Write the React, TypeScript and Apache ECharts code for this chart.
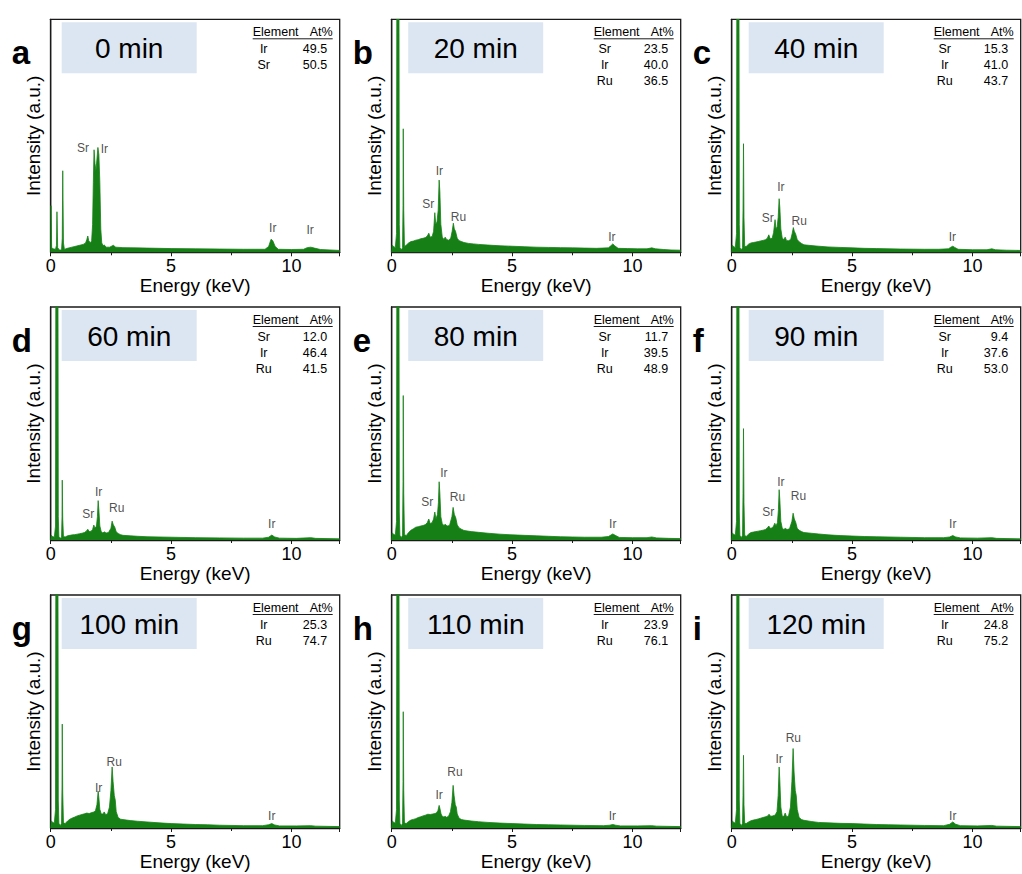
import React, { useEffect, useRef } from 'react';
import * as echarts from 'echarts';

// ---------- data ----------
const panelLetters = ['a', 'b', 'c', 'd', 'e', 'f', 'g', 'h', 'i'];
const panelTimes = ['0 min', '20 min', '40 min', '60 min', '80 min', '90 min', '100 min', '110 min', '120 min'];
const tableElements = [
  ['Ir', 'Sr'],
  ['Sr', 'Ir', 'Ru'],
  ['Sr', 'Ir', 'Ru'],
  ['Sr', 'Ir', 'Ru'],
  ['Sr', 'Ir', 'Ru'],
  ['Sr', 'Ir', 'Ru'],
  ['Ir', 'Ru'],
  ['Ir', 'Ru'],
  ['Ir', 'Ru'],
];
const tableValues = [
  ['49.5', '50.5'],
  ['23.5', '40.0', '36.5'],
  ['15.3', '41.0', '43.7'],
  ['12.0', '46.4', '41.5'],
  ['11.7', '39.5', '48.9'],
  ['9.4', '37.6', '53.0'],
  ['25.3', '74.7'],
  ['23.9', '76.1'],
  ['24.8', '75.2'],
];

// energy (keV), intensity (% of panel height)
const spectrumA = [
  [0, 0], [0.01, 20], [0.04, 2], [0.1, 1.5], [0.2, 1.3], [0.24, 3], [0.26, 17.4], [0.29, 2], [0.36, 1], [0.45, 1],
  [0.48, 6], [0.5, 35], [0.53, 4], [0.57, 1.2], [0.65, 1.6], [0.8, 2], [1.0, 2.5], [1.2, 3], [1.35, 3.4], [1.45, 4],
  [1.5, 5.5], [1.54, 7], [1.58, 5], [1.65, 4], [1.7, 5], [1.74, 12], [1.77, 30], [1.8, 44], [1.84, 38], [1.88, 35],
  [1.92, 40], [1.96, 45], [2.0, 42], [2.04, 30], [2.08, 10], [2.12, 4], [2.18, 2.8], [2.22, 3.2], [2.3, 2.2], [2.45, 2.2],
  [2.6, 3], [2.7, 2.2], [3.0, 2], [3.5, 1.9], [4.0, 1.8], [5.0, 1.6], [6.0, 1.5], [7.0, 1.4], [8.0, 1.3], [8.9, 1.3],
  [9.05, 2.5], [9.15, 5.6], [9.22, 5], [9.32, 2.5], [9.45, 1.3], [10.0, 1.2], [10.5, 1.3], [10.65, 2], [10.8, 2.2],
  [10.95, 1.8], [11.2, 1.2], [12, 0.8],
];
const spectrumB = [
  [0, 0], [0.02, 3], [0.08, 2.5], [0.15, 2], [0.2, 8], [0.215, 130], [0.3, 130], [0.315, 12], [0.34, 2], [0.4, 1],
  [0.45, 2], [0.47, 20], [0.48, 53], [0.5, 18], [0.53, 2.5], [0.6, 3], [0.7, 4], [0.8, 4.6], [0.9, 4.8], [1.0, 5.2],
  [1.1, 5.4], [1.2, 5.8], [1.3, 6], [1.4, 6.3], [1.48, 7], [1.54, 8.2], [1.6, 6.5], [1.68, 6.8], [1.74, 9], [1.79, 17],
  [1.83, 12], [1.88, 13], [1.93, 18], [1.97, 31], [2.0, 26], [2.04, 12], [2.1, 6.5], [2.17, 5.5], [2.22, 6.5], [2.28, 5.5],
  [2.36, 5.2], [2.45, 6], [2.51, 9], [2.56, 12.5], [2.6, 10], [2.65, 9], [2.72, 6], [2.8, 5], [2.9, 4.6], [3.0, 4.2],
  [3.2, 3.8], [3.4, 3.6], [3.6, 3.4], [4.0, 3.1], [4.5, 2.8], [5.0, 2.6], [5.5, 2.4], [6.0, 2.2], [6.5, 2.1], [7.0, 2.0],
  [7.5, 1.9], [8.0, 1.8], [8.5, 1.7], [9.0, 1.9], [9.1, 2.8], [9.18, 3.6], [9.26, 2.8], [9.4, 1.7], [9.8, 1.6], [10.2, 1.5],
  [10.6, 1.5], [10.8, 1.9], [10.95, 1.5], [11.3, 1.2], [11.6, 1.0], [12, 0.9],
];
const spectrumC = [
  [0, 0], [0.02, 3], [0.08, 2.5], [0.15, 2], [0.2, 8], [0.215, 130], [0.3, 130], [0.315, 12], [0.34, 2], [0.4, 1],
  [0.45, 2], [0.47, 18], [0.49, 46.6], [0.51, 15], [0.54, 2.5], [0.6, 2.5], [0.7, 3.5], [0.8, 4], [0.9, 4.2], [1.0, 4.4],
  [1.1, 4.6], [1.2, 4.9], [1.3, 5.1], [1.4, 5.4], [1.48, 6], [1.54, 7.5], [1.6, 5.8], [1.68, 6], [1.74, 8.5], [1.8, 14],
  [1.84, 10], [1.89, 11], [1.93, 15], [1.97, 23], [2.0, 19], [2.04, 10], [2.1, 6], [2.17, 5.5], [2.22, 6.5], [2.28, 5],
  [2.36, 5], [2.45, 5.5], [2.51, 8], [2.56, 10.6], [2.6, 9], [2.65, 8], [2.72, 5.5], [2.8, 4.5], [2.9, 3.8], [3.0, 3.2],
  [3.2, 3], [3.5, 2.7], [4.0, 2.3], [4.5, 2.1], [5.0, 1.9], [5.5, 1.7], [6.0, 1.6], [7.0, 1.4], [8.0, 1.3], [8.6, 1.3],
  [9.0, 1.5], [9.1, 2.2], [9.18, 2.6], [9.26, 2.1], [9.4, 1.3], [10.0, 1.1], [10.6, 1.1], [10.8, 1.5], [10.95, 1.1],
  [11.4, 0.9], [12, 0.8],
];
const spectrumD = [
  [0, 0], [0.02, 2], [0.08, 1.5], [0.15, 1.2], [0.2, 6], [0.215, 130], [0.3, 130], [0.315, 10], [0.34, 1.5], [0.4, 0.8],
  [0.45, 1.2], [0.47, 10], [0.48, 25.7], [0.5, 9], [0.53, 1.5], [0.6, 1.3], [0.7, 1.8], [0.8, 2], [0.9, 2.2], [1.0, 2.3],
  [1.1, 2.5], [1.2, 2.7], [1.3, 2.9], [1.4, 3.2], [1.48, 3.8], [1.54, 4.6], [1.6, 3.6], [1.68, 3.8], [1.74, 4.5], [1.79, 6.4],
  [1.84, 5], [1.9, 6], [1.94, 10], [1.97, 16.9], [2.0, 13], [2.04, 6], [2.1, 3.5], [2.17, 3], [2.22, 3.5], [2.3, 3],
  [2.4, 3.2], [2.5, 5], [2.55, 8.1], [2.6, 6.5], [2.66, 5.5], [2.72, 3.5], [2.8, 2.8], [2.9, 2.3], [3.0, 2], [3.3, 1.8],
  [3.6, 1.6], [4.0, 1.4], [5.0, 1.2], [6.0, 1.0], [7.0, 0.9], [8.0, 0.8], [8.8, 0.8], [9.05, 1.2], [9.18, 2.1], [9.3, 1.3],
  [9.5, 0.8], [10.2, 0.7], [10.8, 1.0], [11, 0.7], [12, 0.5],
];
const spectrumE = [
  [0, 0], [0.02, 3], [0.08, 2.5], [0.15, 2], [0.2, 8], [0.215, 130], [0.3, 130], [0.315, 12], [0.34, 2], [0.4, 1],
  [0.45, 2], [0.47, 25], [0.48, 62], [0.5, 20], [0.53, 2.5], [0.6, 1.8], [0.7, 3.2], [0.8, 4.2], [0.9, 4.8], [1.0, 5.5],
  [1.1, 5.7], [1.2, 6], [1.3, 6.2], [1.4, 6.6], [1.48, 7.5], [1.54, 9], [1.6, 7], [1.68, 7.5], [1.74, 9], [1.79, 12],
  [1.84, 9], [1.9, 11], [1.94, 16], [1.97, 25], [2.0, 20], [2.04, 10], [2.1, 7], [2.17, 6.2], [2.22, 6.8], [2.3, 6],
  [2.4, 6.2], [2.5, 10], [2.55, 14], [2.6, 11], [2.66, 9.5], [2.72, 6.5], [2.8, 5.2], [2.9, 4.6], [3.0, 4.1], [3.3, 3.6],
  [3.6, 3.3], [4.0, 2.9], [4.5, 2.5], [5.0, 2.2], [5.5, 2], [6.0, 1.8], [6.5, 1.6], [7.0, 1.4], [7.5, 1.3], [8.0, 1.2],
  [8.7, 1.2], [9.0, 1.5], [9.1, 2.1], [9.18, 2.6], [9.28, 2], [9.45, 1.1], [10, 1], [10.6, 1], [10.8, 1.3], [11, 0.9],
  [11.5, 0.7], [12, 0.6],
];
const spectrumF = [
  [0, 0], [0.02, 3], [0.08, 2.5], [0.15, 2], [0.2, 8], [0.215, 130], [0.3, 130], [0.315, 12], [0.34, 2], [0.4, 1],
  [0.45, 2], [0.47, 20], [0.49, 47.8], [0.51, 16], [0.54, 2], [0.6, 1.5], [0.7, 2.5], [0.8, 3.2], [0.9, 3.4], [1.0, 3.6],
  [1.1, 3.8], [1.2, 4], [1.3, 4.2], [1.4, 4.5], [1.48, 5.2], [1.54, 6], [1.6, 5], [1.68, 5.2], [1.74, 6], [1.79, 7.2],
  [1.84, 6], [1.9, 7.5], [1.94, 13], [1.97, 21.6], [2.0, 17], [2.04, 8], [2.1, 5], [2.17, 4.5], [2.22, 5], [2.3, 4.5],
  [2.4, 4.8], [2.5, 8], [2.55, 11.5], [2.6, 9], [2.66, 7.5], [2.72, 5], [2.8, 4.2], [2.9, 3.6], [3.0, 3.2], [3.3, 2.9],
  [3.6, 2.6], [4.0, 2.2], [4.5, 1.9], [5.0, 1.7], [5.5, 1.5], [6.0, 1.4], [7.0, 1.2], [8.0, 1.0], [8.8, 1.0], [9.05, 1.3],
  [9.18, 1.9], [9.3, 1.3], [9.5, 0.9], [10.2, 0.8], [10.8, 1.0], [11, 0.7], [12, 0.5],
];
const spectrumG = [
  [0, 0], [0.02, 3], [0.08, 2.5], [0.15, 2], [0.2, 8], [0.215, 130], [0.3, 130], [0.315, 12], [0.34, 2], [0.4, 1],
  [0.45, 2], [0.47, 18], [0.48, 44.6], [0.5, 15], [0.53, 2.2], [0.6, 1.9], [0.7, 3], [0.8, 3.8], [0.9, 4.3], [1.0, 4.7],
  [1.1, 5.2], [1.2, 5.5], [1.3, 5.8], [1.4, 6.1], [1.5, 6.4], [1.6, 6.2], [1.7, 6.6], [1.8, 6.9], [1.86, 7.5], [1.92, 10],
  [1.97, 15.8], [2.0, 13], [2.04, 8], [2.1, 6], [2.17, 6], [2.22, 6.9], [2.28, 5.8], [2.36, 6], [2.44, 9], [2.5, 16],
  [2.55, 26.2], [2.59, 20], [2.64, 14], [2.68, 12], [2.72, 7], [2.8, 4.5], [2.9, 3.8], [3.0, 3.6], [3.3, 3.2], [3.6, 2.9],
  [4.0, 2.6], [4.5, 2.2], [5.0, 1.9], [5.5, 1.7], [6.0, 1.5], [6.5, 1.4], [7.0, 1.2], [8.0, 1.0], [8.8, 1.0], [9.05, 1.4],
  [9.18, 1.9], [9.3, 1.3], [9.5, 0.9], [10.2, 0.9], [10.8, 1.0], [11, 0.8], [12, 0.6],
];
const spectrumH = [
  [0, 0], [0.02, 3], [0.08, 2.5], [0.15, 2], [0.2, 8], [0.215, 130], [0.3, 130], [0.315, 12], [0.34, 2], [0.4, 1],
  [0.45, 2], [0.47, 20], [0.48, 49.9], [0.5, 16], [0.53, 2.2], [0.6, 1.9], [0.7, 2.8], [0.8, 3.4], [0.9, 3.7], [1.0, 4],
  [1.1, 4.5], [1.2, 4.8], [1.3, 5.2], [1.4, 5.5], [1.5, 5.9], [1.6, 5.8], [1.7, 6], [1.8, 6.2], [1.86, 6.5], [1.92, 7.5],
  [1.97, 9.7], [2.0, 8.5], [2.05, 6], [2.1, 5], [2.17, 4.7], [2.22, 5], [2.28, 4.6], [2.36, 5], [2.44, 7], [2.5, 11],
  [2.55, 18.3], [2.59, 14], [2.64, 10], [2.68, 9], [2.72, 6], [2.8, 4.2], [2.9, 3.6], [3.0, 3.4], [3.3, 3], [3.6, 2.7],
  [4.0, 2.4], [4.5, 2.1], [5.0, 1.9], [5.5, 1.7], [6.0, 1.5], [6.5, 1.4], [7.0, 1.3], [8.0, 1.1], [8.8, 1.0], [9.05, 1.2],
  [9.18, 1.5], [9.3, 1.2], [9.5, 0.9], [10.2, 0.9], [10.8, 1.0], [11, 0.8], [12, 0.6],
];
const spectrumI = [
  [0, 0], [0.02, 3], [0.08, 2.5], [0.15, 2], [0.2, 8], [0.215, 130], [0.3, 130], [0.315, 12], [0.34, 2], [0.4, 1],
  [0.45, 2], [0.47, 14], [0.49, 31.2], [0.51, 10], [0.54, 2], [0.6, 1.9], [0.7, 2.6], [0.8, 3.1], [0.9, 3.4], [1.0, 3.6],
  [1.1, 3.9], [1.2, 4.2], [1.3, 4.5], [1.4, 4.8], [1.5, 5.2], [1.55, 5.9], [1.62, 5], [1.7, 5.2], [1.8, 5.5], [1.88, 7],
  [1.93, 14], [1.97, 26.2], [2.0, 20], [2.04, 9], [2.1, 5], [2.17, 5], [2.22, 6.4], [2.28, 4.8], [2.36, 5.2], [2.44, 9],
  [2.5, 20], [2.55, 34.1], [2.59, 24], [2.64, 16], [2.68, 14], [2.72, 8], [2.8, 4.5], [2.9, 3.6], [3.0, 3.3], [3.3, 2.8],
  [3.6, 2.4], [4.0, 2.2], [4.5, 2], [5.0, 1.9], [5.5, 1.7], [6.0, 1.5], [6.5, 1.4], [7.0, 1.3], [8.0, 1.1], [8.8, 1.0],
  [9.05, 1.6], [9.18, 2.6], [9.3, 1.6], [9.5, 1.0], [10.2, 0.9], [10.8, 1.1], [11, 0.8], [12, 0.6],
];
const spectra = [spectrumA, spectrumB, spectrumC, spectrumD, spectrumE, spectrumF, spectrumG, spectrumH, spectrumI];

// peak annotations: [energy, intensity, label]
const peakLabelsA = [[1.34, 44.8, 'Sr'], [2.23, 44.5, 'Ir'], [9.22, 10.4, 'Ir'], [10.77, 9.6, 'Ir']];
const peakLabelsB = [[1.98, 35.0, 'Ir'], [1.52, 20.7, 'Sr'], [2.77, 15.3, 'Ru'], [9.14, 6.7, 'Ir']];
const peakLabelsC = [[2.04, 27.9, 'Ir'], [1.5, 14.6, 'Sr'], [2.8, 13.6, 'Ru'], [9.16, 6.7, 'Ir']];
const peakLabelsD = [[1.99, 20.7, 'Ir'], [1.56, 11.2, 'Sr'], [2.74, 13.6, 'Ru'], [9.18, 6.7, 'Ir']];
const peakLabelsE = [[2.17, 28.6, 'Ir'], [1.48, 16.4, 'Sr'], [2.73, 18.6, 'Ru'], [9.18, 6.7, 'Ir']];
const peakLabelsF = [[2.04, 25.0, 'Ir'], [1.52, 12.1, 'Sr'], [2.77, 18.9, 'Ru'], [9.18, 6.7, 'Ir']];
const peakLabelsG = [[2.64, 28.5, 'Ru'], [1.99, 17.0, 'Ir'], [9.18, 5.3, 'Ir']];
const peakLabelsH = [[2.63, 24.2, 'Ru'], [1.97, 14.2, 'Ir'], [9.16, 5.3, 'Ir']];
const peakLabelsI = [[2.56, 38.5, 'Ru'], [1.97, 29.5, 'Ir'], [9.18, 5.3, 'Ir']];
const peakLabels = [peakLabelsA, peakLabelsB, peakLabelsC, peakLabelsD, peakLabelsE, peakLabelsF, peakLabelsG, peakLabelsH, peakLabelsI];

const xTickMax = 12;

// ---------- layout / style ----------
const COL_LEFT = [50.7, 391.7, 731.7];
const ROW_TOP = [19.3, 307, 595];
const PLOT_W = 289;
const PLOT_H = 233;
const BOX_OFFSET = [11, 16.5, 17];
const GREEN = '#168016';
const FONT = 'Arial, "Liberation Sans", Helvetica, sans-serif';

function buildOption() {
  const grids: any[] = [];
  const xAxes: any[] = [];
  const yAxes: any[] = [];
  const series: any[] = [];
  const graphics: any[] = [];

  for (let p = 0; p < 9; p++) {
    const col = p % 3;
    const row = Math.floor(p / 3);
    const left = COL_LEFT[col];
    const top = ROW_TOP[row];
    const right = left + PLOT_W;

    grids.push({
      left, top, width: PLOT_W, height: PLOT_H,
      show: true, borderColor: '#1a1a1a', borderWidth: 1.3, backgroundColor: 'transparent',
    });
    xAxes.push({
      gridIndex: p, type: 'value', min: 0, max: xTickMax, interval: 5,
      name: 'Energy (keV)', nameLocation: 'middle', nameGap: 23,
      nameTextStyle: { fontSize: 19, color: '#000', fontFamily: FONT },
      axisLine: { show: true, onZero: false, lineStyle: { color: '#1a1a1a', width: 1.3 } },
      axisTick: { show: true, inside: false, length: 4, lineStyle: { color: '#1a1a1a', width: 1 } },
      minorTick: { show: true, splitNumber: 2, length: 3, lineStyle: { color: '#1a1a1a', width: 1 } },
      axisLabel: { fontSize: 18, margin: 5, color: '#000', fontFamily: FONT, showMaxLabel: false },
      splitLine: { show: false },
      minorSplitLine: { show: false },
    });
    yAxes.push({
      gridIndex: p, type: 'value', min: 0, max: 100,
      name: 'Intensity (a.u.)', nameLocation: 'middle', nameGap: 8, nameRotate: 90,
      nameTextStyle: { fontSize: 19, color: '#000', fontFamily: FONT },
      axisLine: { show: true, onZero: false, lineStyle: { color: '#1a1a1a', width: 1.3 } },
      axisTick: { show: false },
      axisLabel: { show: false },
      splitLine: { show: false },
    });
    series.push({
      type: 'line', xAxisIndex: p, yAxisIndex: p, data: spectra[p],
      symbol: 'none', showSymbol: false, silent: true, clip: true,
      lineStyle: { color: GREEN, width: 0.8 },
      areaStyle: { color: GREEN, opacity: 1 },
      itemStyle: { color: GREEN },
    });
    series.push({
      type: 'scatter', xAxisIndex: p, yAxisIndex: p, silent: true,
      symbolSize: 1, itemStyle: { color: 'rgba(0,0,0,0)' },
      data: peakLabels[p].map((d: any) => ({ value: [d[0], d[1]], name: d[2] })),
      label: {
        show: true, position: 'inside', formatter: '{b}',
        fontSize: 12, color: '#222', fontFamily: FONT,
      },
      z: 5,
    });

    // panel letter
    graphics.push({
      type: 'text', x: left - 39, y: top + 17,
      style: {
        text: panelLetters[p], font: `bold 33px ${FONT}`, fill: '#000',
        align: 'left', verticalAlign: 'alphabetic', textAlign: 'left', textVerticalAlign: 'alphabetic',
      },
    });
    // time box
    const bx = left + BOX_OFFSET[col];
    graphics.push({
      type: 'rect', shape: { x: bx, y: top + 3, width: 135, height: 51 },
      style: { fill: '#dce6f2' }, z: 1,
    });
    graphics.push({
      type: 'text', x: bx + 67.5, y: top + 29, z: 2,
      style: {
        text: panelTimes[p], font: `28px ${FONT}`, fill: '#000',
        align: 'center', verticalAlign: 'middle', textAlign: 'center', textVerticalAlign: 'middle',
      },
    });
    // composition table
    const tx0 = left + 202;
    const tx1 = right - 7;
    graphics.push({
      type: 'text', x: tx0, y: top + 13, z: 2,
      style: {
        text: 'Element', font: `12.5px ${FONT}`, fill: '#000',
        align: 'left', verticalAlign: 'middle', textAlign: 'left', textVerticalAlign: 'middle',
      },
    });
    graphics.push({
      type: 'text', x: tx1, y: top + 13, z: 2,
      style: {
        text: 'At%', font: `12.5px ${FONT}`, fill: '#000',
        align: 'right', verticalAlign: 'middle', textAlign: 'right', textVerticalAlign: 'middle',
      },
    });
    graphics.push({
      type: 'line', z: 2,
      shape: { x1: tx0, y1: top + 19.5, x2: tx1, y2: top + 19.5 },
      style: { stroke: '#000', lineWidth: 0.9 },
    });
    tableElements[p].forEach((el, k) => {
      const yy = top + 30 + 16 * k;
      graphics.push({
        type: 'text', x: left + 213, y: yy, z: 2,
        style: {
          text: el, font: `12.5px ${FONT}`, fill: '#000',
          align: 'center', verticalAlign: 'middle', textAlign: 'center', textVerticalAlign: 'middle',
        },
      });
      graphics.push({
        type: 'text', x: right - 12.5, y: yy, z: 2,
        style: {
          text: tableValues[p][k], font: `12.5px ${FONT}`, fill: '#000',
          align: 'right', verticalAlign: 'middle', textAlign: 'right', textVerticalAlign: 'middle',
        },
      });
    });
  }

  return {
    animation: false,
    backgroundColor: '#fff',
    textStyle: { fontFamily: FONT },
    grid: grids,
    xAxis: xAxes,
    yAxis: yAxes,
    series,
    graphic: { elements: graphics },
  };
}

export default function App() {
  const ref = useRef<HTMLDivElement>(null);
  useEffect(() => {
    if (!ref.current) return;
    const chart = echarts.init(ref.current, undefined, { renderer: 'svg' });
    chart.setOption(buildOption() as any);
    return () => chart.dispose();
  }, []);
  return (
    <div
      ref={ref}
      style={{ position: 'absolute', left: 0, top: 0, width: 1022, height: 874, background: '#fff' }}
    />
  );
}
